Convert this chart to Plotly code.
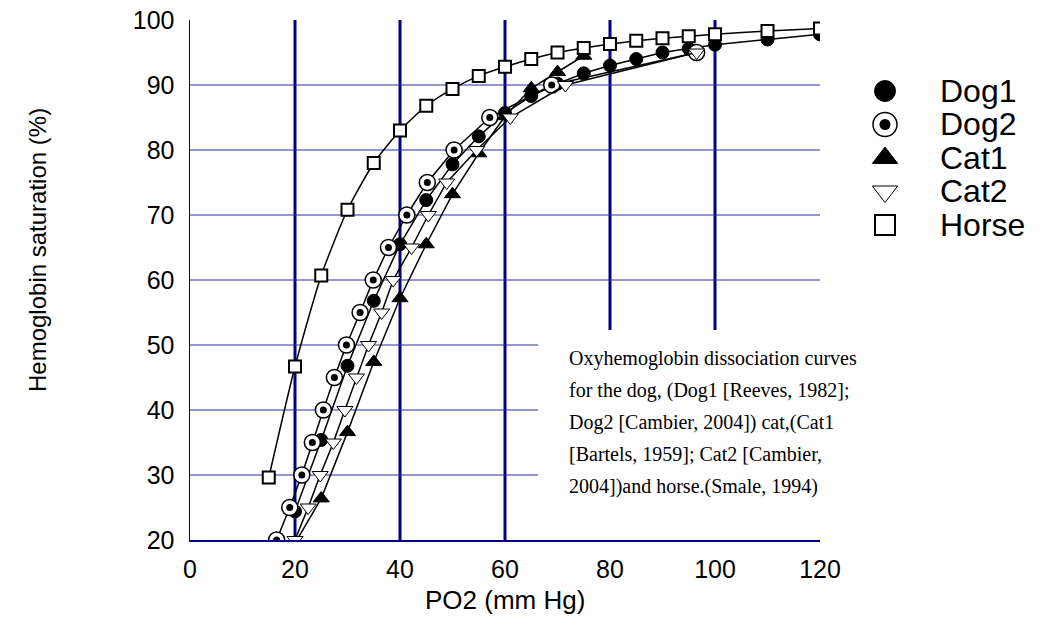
import plotly.graph_objects as go

# ---------------- data ----------------
dog1_po2 = [20, 25, 30, 35, 40, 45, 50, 55, 60, 65, 70, 75, 80, 85, 90, 95, 100, 110, 120]
dog1_sat = [24.4, 35.4, 46.8, 56.8, 65.5, 72.3, 77.8, 82.1, 85.7, 88.3, 90.2, 91.8, 93.0, 94.0, 95.0, 95.6, 96.2, 97.0, 97.8]

dog2_po2 = [16.5, 19.0, 21.3, 23.3, 25.4, 27.5, 29.8, 32.4, 34.9, 37.8, 41.3, 45.2, 50.3, 57.1, 68.9, 96.5]
dog2_sat = [20, 25, 30, 35, 40, 45, 50, 55, 60, 65, 70, 75, 80, 85, 90, 95]

cat1_po2 = [20, 25, 30, 35, 40, 45, 50, 55, 60, 65, 70, 75]
cat1_sat = [19.5, 26.4, 36.6, 47.4, 57.2, 65.5, 73.2, 79.5, 85.2, 89.5, 92.0, 94.5]

cat2_po2 = [20, 22.5, 24.8, 27.3, 29.5, 31.7, 34.0, 36.5, 38.7, 42.2, 45.4, 48.9, 54.6, 61.0, 71.5, 96.5]
cat2_sat = [20, 25, 30, 35, 40, 45, 50, 55, 60, 65, 70, 75, 80, 85, 90, 95]

horse_po2 = [15, 20, 25, 30, 35, 40, 45, 50, 55, 60, 65, 70, 75, 80, 85, 90, 95, 100, 110, 120]
horse_sat = [29.6, 46.7, 60.7, 70.8, 78.0, 83.0, 86.8, 89.4, 91.4, 92.8, 94.0, 95.0, 95.7, 96.3, 96.8, 97.2, 97.5, 97.8, 98.3, 98.7]

x_ticks = [0, 20, 40, 60, 80, 100, 120]
y_ticks = [20, 30, 40, 50, 60, 70, 80, 90, 100]
v_lines = [20, 40, 60, 80, 100]
h_lines = [30, 40, 50, 60, 70, 80, 90]

legend_names = ["Dog1", "Dog2", "Cat1", "Cat2", "Horse"]

note_lines = [
    "Oxyhemoglobin dissociation curves",
    "for the dog, (Dog1 [Reeves, 1982];",
    "Dog2 [Cambier, 2004]) cat,(Cat1",
    "[Bartels, 1959]; Cat2 [Cambier,",
    "2004])and horse.(Smale, 1994)",
]

# ---------------- geometry (page pixels; body margin removed by post_script) ----------------
W, H = 1045, 626


def px(xp):
    return xp / W


def py(yp):
    return 1 - yp / H


NAVY = "#000080"
GRID = "#2e2ea0"
LINE = dict(color="black", width=1.5)
SANS = "Liberation Sans, Arial, sans-serif"
SERIF = "Liberation Serif, Times New Roman, serif"

styles = {
    "Dog1": dict(symbol="circle", size=13, color="black", line=dict(color="black", width=1)),
    "Dog2": dict(symbol="circle", size=16, color="white", line=dict(color="black", width=1.5)),
    "Cat1": dict(symbol="triangle-up", size=14, color="black", line=dict(color="black", width=1)),
    "Cat2": dict(symbol="triangle-down", size=14, color="white", line=dict(color="black", width=1)),
    "Horse": dict(symbol="square", size=12, color="white", line=dict(color="black", width=2)),
}
dot_style = dict(symbol="circle", size=7, color="black")

fig = go.Figure()

series = [
    ("Dog1", dog1_po2, dog1_sat),
    ("Dog2", dog2_po2, dog2_sat),
    ("Cat1", cat1_po2, cat1_sat),
    ("Cat2", cat2_po2, cat2_sat),
    ("Horse", horse_po2, horse_sat),
]
for name, xs, ys in series:
    line = dict(LINE)
    if name == "Horse":
        line.update(shape="spline", smoothing=0.6)
    fig.add_trace(go.Scatter(x=xs, y=ys, mode="lines+markers", name=name,
                             line=line, marker=styles[name], showlegend=False))
    if name == "Dog2":
        fig.add_trace(go.Scatter(x=xs, y=ys, mode="markers", marker=dot_style,
                                 showlegend=False, hoverinfo="skip"))

# ---------------- custom legend on auxiliary axes ----------------
for i, name in enumerate(legend_names):
    st = dict(styles[name])
    st["size"] = st["size"] + 8
    fig.add_trace(go.Scatter(x=[0], y=[i], mode="markers", marker=st,
                             xaxis="x2", yaxis="y2", showlegend=False,
                             cliponaxis=False, hoverinfo="skip"))
    if name == "Dog2":
        fig.add_trace(go.Scatter(x=[0], y=[i], mode="markers",
                                 marker=dict(symbol="circle", size=11, color="black"),
                                 xaxis="x2", yaxis="y2", showlegend=False,
                                 cliponaxis=False, hoverinfo="skip"))
    fig.add_annotation(x=1, y=i, xref="x2", yref="y2", text=name, showarrow=False,
                       xanchor="left", yanchor="middle",
                       font=dict(family=SANS, size=32, color="black"))

# ---------------- shapes: grid lines and note box ----------------
shapes = []
for v in v_lines:
    shapes.append(dict(type="line", xref="x", yref="y", x0=v, x1=v, y0=20, y1=100,
                       line=dict(color=NAVY, width=3), layer="between"))
for h in h_lines:
    shapes.append(dict(type="line", xref="x", yref="y", x0=0, x1=120, y0=h, y1=h,
                       line=dict(color=GRID, width=1), layer="between"))
shapes.append(dict(type="rect", xref="x", yref="y", x0=66.3, x1=120, y0=20, y1=52.3,
                   fillcolor="white", line=dict(width=0), layer="between"))

# ---------------- note text ----------------
for k, t in enumerate(note_lines):
    fig.add_annotation(xref="paper", yref="paper", x=px(567), y=py(358 + 32 * k),
                       text=t, showarrow=False, xanchor="left", yanchor="middle",
                       font=dict(family=SERIF, size=20, color="black"))

# axis titles
fig.add_annotation(xref="paper", yref="paper", x=px(505), y=py(600),
                   text="PO2 (mm Hg)", showarrow=False, xanchor="center", yanchor="middle",
                   font=dict(family=SANS, size=26, color="black"))
fig.add_annotation(xref="paper", yref="paper", x=px(38), y=py(250),
                   text="Hemoglobin saturation (%)", showarrow=False, textangle=-90,
                   xanchor="center", yanchor="middle",
                   font=dict(family=SANS, size=24, color="black"))

fig.update_layout(
    template="none",
    width=W, height=H, autosize=False,
    margin=dict(l=0, r=0, t=0, b=0, pad=0, autoexpand=False),
    paper_bgcolor="white", plot_bgcolor="white",
    showlegend=False,
    hovermode=False,
    shapes=shapes,
    xaxis=dict(domain=[px(190), px(820)], range=[0, 120], tickvals=x_ticks, automargin=False,
               showgrid=False, zeroline=False, showline=True, linecolor=NAVY, linewidth=2,
               ticks="", ticklabelstandoff=6, ticklabeloverflow="allow",
               tickfont=dict(family=SANS, size=25, color="black")),
    yaxis=dict(domain=[py(540), py(20)], range=[20, 100], tickvals=y_ticks,
               automargin=False,
               showgrid=False, zeroline=False, showline=True, linecolor=NAVY, linewidth=1.5,
               ticks="", ticklabelstandoff=9, ticklabeloverflow="allow",
               tickfont=dict(family=SANS, size=25, color="black")),
    xaxis2=dict(domain=[px(885), 1.0], range=[0, (1045 - 885) / 53], visible=False,
                fixedrange=True, automargin=False, anchor="y2"),
    yaxis2=dict(domain=[py(225), py(91)], range=[4, 0], visible=False,
                fixedrange=True, anchor="x2", automargin=False),
)

fig.write_html("out.html",
               config={"displayModeBar": False, "staticPlot": True},
               post_script="document.body.style.margin='0';document.body.style.overflow='hidden';")
